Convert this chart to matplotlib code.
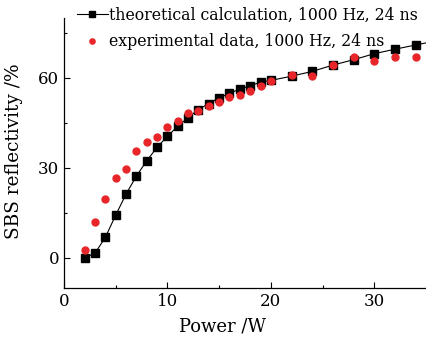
import matplotlib
matplotlib.use('Agg')
import matplotlib.pyplot as plt
from matplotlib.ticker import MultipleLocator

# theoretical curve (black squares + line)
theo_power = [2, 3, 4, 5, 6, 7, 8, 9, 10, 11, 12, 13, 14, 15, 16, 17, 18, 19, 20,
              22, 24, 26, 28, 30, 32, 34, 36]
theo_refl = [0.0, 1.6, 6.9, 14.3, 21.3, 27.3, 32.4, 36.9, 40.6, 43.9, 46.8, 49.5,
             51.5, 53.4, 54.9, 56.3, 57.4, 58.6, 59.2, 60.6, 62.2, 64.3, 66.1, 68.1,
             69.6, 71.0, 72.4]

# experimental data (red dots)
exp_power = [2, 3, 4, 5, 6, 7, 8, 9, 10, 11, 12, 13, 14, 15, 16, 17, 18, 19, 20,
             22, 24, 26, 28, 30, 32, 34]
exp_refl = [2.6, 12.0, 19.6, 26.8, 29.7, 35.7, 38.6, 40.4, 43.8, 45.6, 48.3, 49.0,
            50.8, 52.1, 53.6, 54.5, 55.7, 57.5, 59.0, 61.0, 60.6, 64.3, 66.9, 65.8,
            67.0, 66.9]

plt.rcParams['font.family'] = ['DejaVu Serif']

fig = plt.figure(figsize=(4.26, 3.4), dpi=100)
ax = fig.add_axes([64 / 426, 1 - 288 / 340, 1 - 64 / 426, (288 - 18) / 340])

ax.plot(theo_power, theo_refl, color='black', lw=0.8, marker='s', ms=5.8,
        label='theoretical calculation, 1000 Hz, 24 ns')
ax.plot(exp_power, exp_refl, ls='none', color='#e8262a', marker='o', ms=5.0,
        label='experimental data, 1000 Hz, 24 ns')

ax.set_xlim(0, 35)
ax.set_ylim(-10, 80)
ax.xaxis.set_major_locator(MultipleLocator(10))
ax.xaxis.set_minor_locator(MultipleLocator(5))
ax.yaxis.set_major_locator(MultipleLocator(30))
ax.yaxis.set_minor_locator(MultipleLocator(15))
ax.tick_params(which='both', direction='in', labelsize=12, width=0.8)
ax.tick_params(which='major', length=4)
ax.tick_params(which='minor', length=2.5)
for s in ['top', 'right']:
    ax.spines[s].set_visible(False)
ax.spines['left'].set_linewidth(0.9)
ax.spines['bottom'].set_linewidth(0.9)

ax.set_xlabel('Power /W', fontsize=13)
ax.set_ylabel('SBS reflectivity /%', fontsize=13.3)
ax.xaxis.set_label_coords(0.438, -0.11)
ax.yaxis.set_label_coords(-0.113, 0.506)

fig.legend(loc='upper left', bbox_to_anchor=(66 / 426, 1.012), frameon=False,
           fontsize=11.3, handlelength=1.95, handletextpad=0.1, borderpad=0.2,
           labelspacing=0.6, numpoints=1, markerscale=0.75)

fig.savefig('out.png', dpi=100)
